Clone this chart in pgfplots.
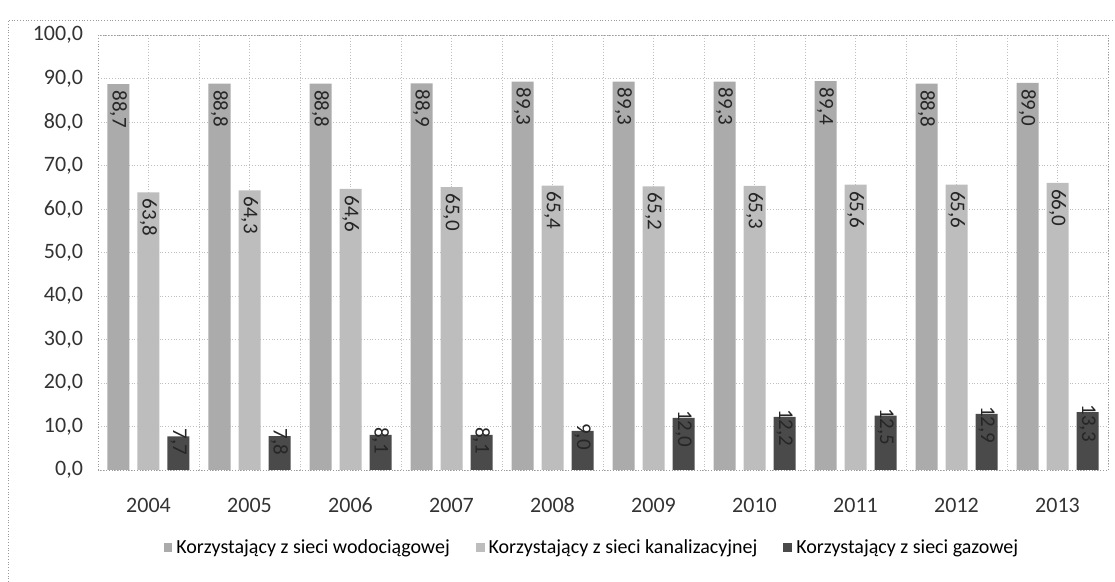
\documentclass[border=0pt]{standalone}
\usepackage{fontspec}
\setmainfont{Carlito}
\usepackage{pgfplots}
\pgfplotsset{compat=1.18}

\definecolor{wod}{HTML}{ABABAB}
\definecolor{kan}{HTML}{BDBDBD}
\definecolor{gaz}{HTML}{4A4A4A}
\definecolor{grid}{HTML}{9A9A9A}

\begin{document}
\begin{tikzpicture}
\useasboundingbox (-49pt,-56pt) rectangle (508.5pt,235pt);
% ramka wykresu
\draw[grid, densely dotted] (-45pt,-56pt) -- (-45pt,225pt) -- (508.5pt,225pt);
\begin{axis}[
    at={(0pt,0pt)}, anchor=south west,
    scale only axis, width=505pt, height=217.5pt,
    ybar=4pt, bar width=11pt,
    xmin=-0.5, xmax=9.5, ymin=0, ymax=100,
    xtick=data,
    xticklabels={2004,2005,2006,2007,2008,2009,2010,2011,2012,2013},
    minor xtick={-0.5,0.5,...,9.5},
    xminorgrids=true, ymajorgrids=true,
    ytick={0,10,...,100},
    major grid style={grid, densely dotted},
    minor grid style={grid, densely dotted},
    axis line style={grid, densely dotted},
    tick style={draw=none},
    font=\fontsize{11}{13}\selectfont,
    ticklabel style={text=black!80},
    xticklabel style={text height=7.5pt, text depth=0pt, yshift=-6pt},
    yticklabel style={xshift=-4pt},
    /pgf/number format/assume math mode=true,
    yticklabel={\pgfmathprintnumber[fixed, fixed zerofill, precision=1, use comma]{\tick}},
    nodes near coords={\pgfmathprintnumber[fixed, fixed zerofill, precision=1, use comma]{\pgfplotspointmeta}},
    every node near coord/.append style={rotate=-90, anchor=west, inner xsep=3pt, inner ysep=0pt,
        font=\fontsize{10.5}{12}\selectfont, text=black!85},
    legend style={at={(0.49,-0.179)}, anchor=center, draw=none, fill=none,
        legend columns=-1, font=\fontsize{10}{12}\selectfont,
        /tikz/every even column/.append style={column sep=11pt}},
    legend image code/.code={\fill[#1] (0pt,-2.2pt) rectangle (4.4pt,2.2pt);},
]
\addplot[fill=wod, draw=none] coordinates {
    (0,88.7) (1,88.8) (2,88.8) (3,88.9) (4,89.3)
    (5,89.3) (6,89.3) (7,89.4) (8,88.8) (9,89.0)
};
\addplot[fill=kan, draw=none] coordinates {
    (0,63.8) (1,64.3) (2,64.6) (3,65.0) (4,65.4)
    (5,65.2) (6,65.3) (7,65.6) (8,65.6) (9,66.0)
};
\addplot[fill=gaz, draw=none,
    every node near coord/.append style={inner xsep=-4pt}] coordinates {
    (0,7.7) (1,7.8) (2,8.1) (3,8.1) (4,9.0)
    (5,12.0) (6,12.2) (7,12.5) (8,12.9) (9,13.3)
};
\legend{Korzystający z sieci wodociągowej, Korzystający z sieci kanalizacyjnej, Korzystający z sieci gazowej}
\end{axis}
\end{tikzpicture}
\end{document}
